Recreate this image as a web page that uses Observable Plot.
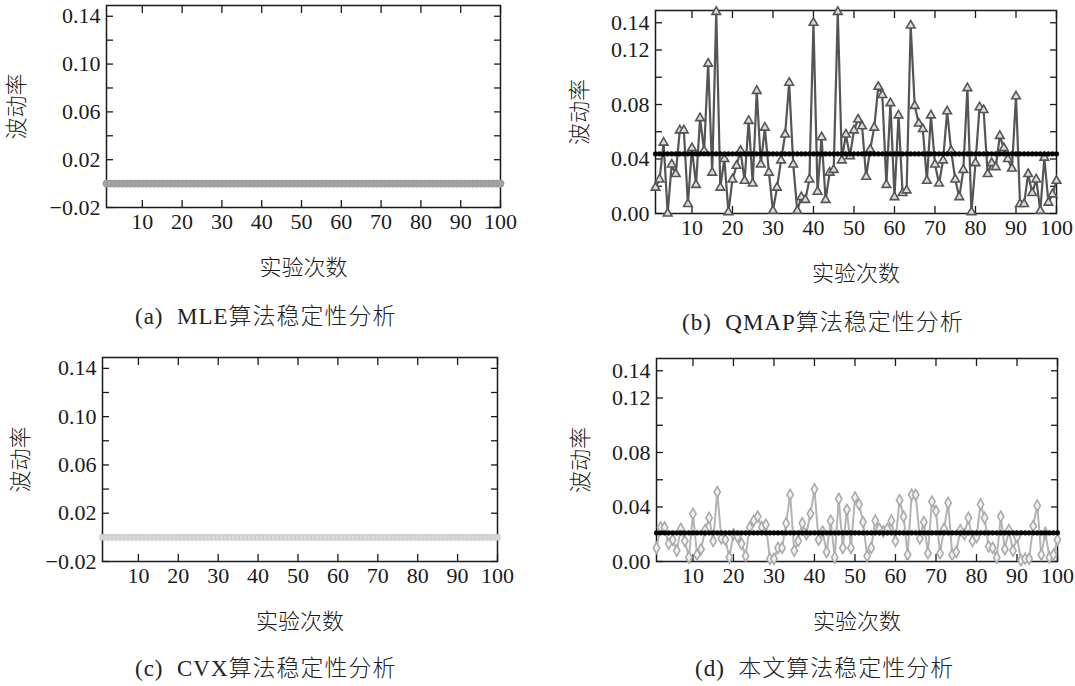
<!DOCTYPE html>
<html><head><meta charset="utf-8">
<script src="https://cdn.jsdelivr.net/npm/d3@7"></script>
<script src="https://cdn.jsdelivr.net/npm/@observablehq/plot@0.6"></script>
<style>
body{margin:0;background:#fff;}
#root{position:relative;width:1075px;height:686px;overflow:hidden;background:#fff;font-family:"Liberation Serif","Noto Sans CJK SC",serif;color:#1a1a1a}
.panel{position:absolute}
.cap{position:absolute;font-size:23px;letter-spacing:1px;white-space:pre;line-height:23px;color:#222;font-weight:300}
</style></head><body><div id="root"></div>
<script>
// ---- data ----
const trials = d3.range(1, 101);
const mleValues = [0,0,0,0,0,0,0,0,0,0, 0,0,0,0,0,0,0,0,0,0, 0,0,0,0,0,0,0,0,0,0, 0,0,0,0,0,0,0,0,0,0, 0,0,0,0,0,0,0,0,0,0,
                   0,0,0,0,0,0,0,0,0,0, 0,0,0,0,0,0,0,0,0,0, 0,0,0,0,0,0,0,0,0,0, 0,0,0,0,0,0,0,0,0,0, 0,0,0,0,0,0,0,0,0,0];
const cvxValues = [0,0,0,0,0,0,0,0,0,0, 0,0,0,0,0,0,0,0,0,0, 0,0,0,0,0,0,0,0,0,0, 0,0,0,0,0,0,0,0,0,0, 0,0,0,0,0,0,0,0,0,0,
                   0,0,0,0,0,0,0,0,0,0, 0,0,0,0,0,0,0,0,0,0, 0,0,0,0,0,0,0,0,0,0, 0,0,0,0,0,0,0,0,0,0, 0,0,0,0,0,0,0,0,0,0];
const qmapValues = [
  0.019,0.025,0.052,0.000,0.036,0.029,0.061,0.061,0.007,0.048,
  0.021,0.070,0.046,0.110,0.030,0.148,0.019,0.040,0.001,0.025,
  0.035,0.046,0.024,0.068,0.022,0.090,0.036,0.063,0.030,0.002,
  0.019,0.039,0.058,0.096,0.036,0.002,0.012,0.010,0.025,0.140,
  0.016,0.056,0.010,0.030,0.032,0.148,0.039,0.058,0.042,0.061,
  0.069,0.064,0.027,0.047,0.063,0.093,0.087,0.021,0.081,0.012,
  0.072,0.015,0.017,0.138,0.079,0.066,0.062,0.024,0.072,0.036,
  0.022,0.039,0.075,0.046,0.025,0.012,0.032,0.092,0.001,0.037,
  0.078,0.076,0.029,0.037,0.034,0.057,0.048,0.040,0.033,0.086,
  0.007,0.007,0.029,0.015,0.025,0.002,0.041,0.008,0.014,0.024];
const qmapMean = 0.0437;
const oursValues = [
  0.010,0.025,0.025,0.013,0.016,0.008,0.024,0.015,0.003,0.035,
  0.005,0.009,0.023,0.032,0.015,0.051,0.017,0.016,0.003,0.020,
  0.018,0.013,0.004,0.025,0.030,0.033,0.025,0.027,0.002,0.002,
  0.010,0.010,0.028,0.049,0.008,0.015,0.028,0.020,0.035,0.053,
  0.016,0.022,0.007,0.030,0.003,0.046,0.010,0.038,0.010,0.047,
  0.042,0.029,0.004,0.010,0.030,0.024,0.022,0.024,0.030,0.015,
  0.045,0.033,0.005,0.049,0.049,0.017,0.029,0.006,0.044,0.037,
  0.006,0.024,0.043,0.005,0.007,0.023,0.020,0.032,0.015,0.018,
  0.042,0.032,0.011,0.010,0.003,0.033,0.009,0.023,0.008,0.018,
  0.001,0.002,0.002,0.026,0.041,0.005,0.021,0.003,0.005,0.016];
const oursMean = 0.021;

const xTicks = [10,20,30,40,50,60,70,80,90,100];
const yTicksAC = [-0.02,0,0.02,0.04,0.06,0.08,0.10,0.12,0.14];
const yLabelsAC = [-0.02,0.02,0.06,0.10,0.14];
const yTicksBD = [0,0.02,0.04,0.06,0.08,0.10,0.12,0.14];
const yLabelsBD = [0,0.04,0.08,0.12,0.14];
const yTitle = "波动率";
const xTitle = "实验次数";
const captions = ["(a)  MLE算法稳定性分析","(b)  QMAP算法稳定性分析","(c)  CVX算法稳定性分析","(d)  本文算法稳定性分析"];

// ---- drawing ----
const root = document.getElementById("root");
const fmt = d3.format(".2f");
const FONT = "'Liberation Serif','Noto Sans CJK SC',serif";

function panel(o) {
  const rows = trials.map((t, i) => ({t, v: o.values[i]}));
  const marks = [
    Plot.axisY(o.yTicks, {anchor:"left", tickSize:-7, tickFormat:() => "", label:null, strokeWidth:1.3}),
    Plot.axisY(o.yTicks, {anchor:"right", tickSize:-7, tickFormat:() => "", label:null, strokeWidth:1.3}),
    Plot.axisX(xTicks, {anchor:"bottom", tickSize:-7, tickFormat:() => "", label:null, strokeWidth:1.3}),
    Plot.axisX(xTicks, {anchor:"top", tickSize:-7, tickFormat:() => "", label:null, strokeWidth:1.3}),
    Plot.axisY(o.yLabels, {anchor:"left", tickSize:0, tickPadding:6, tickFormat:fmt, label:yTitle,
      labelAnchor:"center", labelOffset:o.yLabelOffset, labelArrow:"none", fill:"#1a1a1a", fontSize:22, fontWeight:300}),
    Plot.axisX(xTicks, {anchor:"bottom", tickSize:0, tickPadding:6, label:xTitle,
      labelAnchor:"center", labelOffset:67, labelArrow:"none", fill:"#1a1a1a", fontSize:22, fontWeight:300}),
    Plot.frame({stroke:"#1a1a1a", strokeWidth:1.5}),
    ...o.series(rows)
  ];
  if (o.mean != null) {
    marks.push(Plot.lineY(trials, {x: d => d, y: () => o.mean, stroke:"#000", strokeWidth:2}));
    marks.push(Plot.dot(trials, {x: d => d, y: () => o.mean, r:2.4, fill:"#000", stroke:"#000", strokeWidth:0.5}));
  }
  const svg = Plot.plot({
    width: o.width, height: o.height,
    marginLeft: o.ml, marginRight: o.mr, marginTop: o.mt, marginBottom: o.mb,
    x: {domain:[1,100]},
    y: {domain:o.yDomain},
    style: {fontSize:"21px", fontFamily:FONT, color:"#1a1a1a", background:"transparent", overflow:"visible"},
    marks
  });
  svg.classList.add("panel");
  svg.style.left = o.left + "px";
  svg.style.top = o.top + "px";
  root.appendChild(svg);
}

panel({
  left:0, top:0, width:540, height:290, ml:106, mr:40, mt:5, mb:83,
  values: mleValues, yDomain:[-0.02,0.149], yTicks:yTicksAC, yLabels:yLabelsAC, yLabelOffset:98,
  series: rows => [
    Plot.line(rows, {x:"t", y:"v", stroke:"#a8a8a8", strokeWidth:1.5}),
    Plot.dot(rows, {x:"t", y:"v", r:3.5, fill:"#a4a4a4", stroke:"#9a9a9a", strokeWidth:1})
  ]
});
panel({
  left:540, top:0, width:535, height:290, ml:115, mr:19, mt:10, mb:77,
  values: qmapValues, mean: qmapMean, yDomain:[0,0.149], yTicks:yTicksBD, yLabels:yLabelsBD, yLabelOffset:84,
  series: rows => [
    Plot.line(rows, {x:"t", y:"v", stroke:"#555", strokeWidth:2.2}),
    Plot.dot(rows, {x:"t", y:"v", symbol:"triangle", r:3.2, fill:"#dcdcdc", stroke:"#555", strokeWidth:1.6})
  ]
});
panel({
  left:0, top:345, width:540, height:290, ml:102, mr:43, mt:12, mb:74,
  values: cvxValues, yDomain:[-0.02,0.149], yTicks:yTicksAC, yLabels:yLabelsAC, yLabelOffset:90,
  series: rows => [
    Plot.line(rows, {x:"t", y:"v", stroke:"#d4d4d4", strokeWidth:1.5}),
    Plot.dot(rows, {x:"t", y:"v", symbol:"square", r:3, fill:"#d8d8d8", stroke:"#cccccc", strokeWidth:1})
  ]
});
panel({
  left:540, top:345, width:535, height:290, ml:116, mr:18, mt:13, mb:74,
  values: oursValues, mean: oursMean, yDomain:[0,0.149], yTicks:yTicksBD, yLabels:yLabelsBD, yLabelOffset:84,
  series: rows => [
    Plot.line(rows, {x:"t", y:"v", stroke:"#b4b4b4", strokeWidth:2}),
    Plot.dot(rows, {x:"t", y:"v", symbol:"diamond", r:3.3, fill:"#f2f2f2", stroke:"#aaaaaa", strokeWidth:1.6})
  ]
});

// captions
const capPos = [[135,305],[682,311],[135,657],[695,657]];
captions.forEach((c, i) => {
  const d = document.createElement("div");
  d.className = "cap";
  d.textContent = c;
  d.style.left = capPos[i][0] + "px";
  d.style.top = capPos[i][1] + "px";
  root.appendChild(d);
});
</script></body></html>
